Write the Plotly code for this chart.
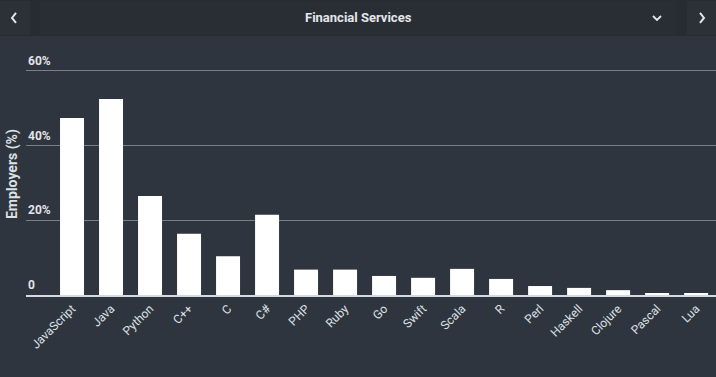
import plotly.graph_objects as go

languages = ["JavaScript", "Java", "Python", "C++", "C", "C#", "PHP", "Ruby", "Go",
             "Swift", "Scala", "R", "Perl", "Haskell", "Clojure", "Pascal", "Lua"]
employers_pct = [47.4, 52.5, 26.5, 16.4, 10.4, 21.5, 6.8, 6.8, 5.1,
                 4.6, 7.0, 4.3, 2.4, 1.9, 1.3, 0.4, 0.4]
y_tick_vals = [0, 20, 40, 60]
y_tick_text = ["0", "20%", "40%", "60%"]
title_text = "Financial Services"
y_title = "Employers (%)"

BG = "#2f353f"
HEADER = "#272c33"
PANEL = "#292e35"
BUTTON = "#2c3138"
TXT = "#dde0e4"
ICON = "#e4e6ea"

# plot area in pixels: x 26..716, y 56..295
L, R, T, B = 26, 0, 56, 82
W, H = 716, 377
PW, PH = W - L - R, H - T - B

def px(x):
    return (x - L) / PW

def py(y):
    return (H - B - y) / PH

def path(points):
    return "M " + " L ".join(f"{px(a):.5f},{py(b):.5f}" for a, b in points)

fig = go.Figure(go.Bar(
    x=languages, y=employers_pct,
    marker=dict(color="#ffffff", line=dict(width=0)),
    width=0.615,
    hoverinfo="skip",
))

shapes = [
    dict(type="rect", xref="paper", yref="paper", x0=px(0), x1=px(716), y0=py(36), y1=py(0),
         fillcolor=HEADER, line=dict(width=0), layer="below"),
    dict(type="rect", xref="paper", yref="paper", x0=px(0), x1=px(30), y0=py(35), y1=py(1),
         fillcolor=BUTTON, line=dict(width=0), layer="below"),
    dict(type="rect", xref="paper", yref="paper", x0=px(40), x1=px(676), y0=py(35), y1=py(1),
         fillcolor=PANEL, line=dict(width=0), layer="below"),
    dict(type="rect", xref="paper", yref="paper", x0=px(687), x1=px(716), y0=py(35), y1=py(1),
         fillcolor=BUTTON, line=dict(width=0), layer="below"),
    dict(type="path", xref="paper", yref="paper", path=path([(16, 13), (12, 18), (16, 23)]),
         line=dict(color=ICON, width=2)),
    dict(type="path", xref="paper", yref="paper", path=path([(700, 13), (704, 18), (700, 23)]),
         line=dict(color=ICON, width=2)),
    dict(type="path", xref="paper", yref="paper", path=path([(653, 16), (657, 20), (661, 16)]),
         line=dict(color=ICON, width=1.8)),
]

annotations = [
    dict(text="<b>" + title_text + "</b>", xref="paper", yref="paper", x=px(358), y=py(18),
         showarrow=False, font=dict(size=13, color="#e4e6ea", family="Roboto"),
         xanchor="center", yanchor="middle"),
    dict(text="<b>" + y_title + "</b>", xref="paper", yref="paper", x=px(12), y=py(174), textangle=-90,
         showarrow=False, font=dict(size=14, color=TXT, family="Roboto"),
         xanchor="center", yanchor="middle"),
]
for v, t in zip(y_tick_vals, y_tick_text):
    annotations.append(dict(
        text="<b>" + t + "</b>", xref="paper", yref="y", x=0, y=v,
        xanchor="left", yanchor="bottom", showarrow=False, yshift=1,
        font=dict(size=12, color="#e2e4e8", family="Roboto"),
    ))

fig.update_layout(
    width=W, height=H,
    margin=dict(l=L, r=R, t=T, b=B, pad=0),
    paper_bgcolor=BG, plot_bgcolor=BG,
    showlegend=False,
    shapes=shapes,
    annotations=annotations,
    font=dict(family="Roboto", color=TXT),
    xaxis=dict(
        range=[-1.18, 16.51],
        tickangle=-45,
        tickfont=dict(size=12, color=TXT, family="Roboto"),
        showgrid=False,
        showline=True, linecolor="#d4d9e2", linewidth=2,
        ticks="", zeroline=False, fixedrange=True,
    ),
    yaxis=dict(
        range=[0, 64],
        tickvals=y_tick_vals,
        showticklabels=False,
        showgrid=True, gridcolor="#7a7f87", gridwidth=1,
        zeroline=False, ticks="",
        fixedrange=True,
    ),
)

fig.write_html("out.html", config={"displayModeBar": False},
               post_script="document.body.style.margin='0';")
